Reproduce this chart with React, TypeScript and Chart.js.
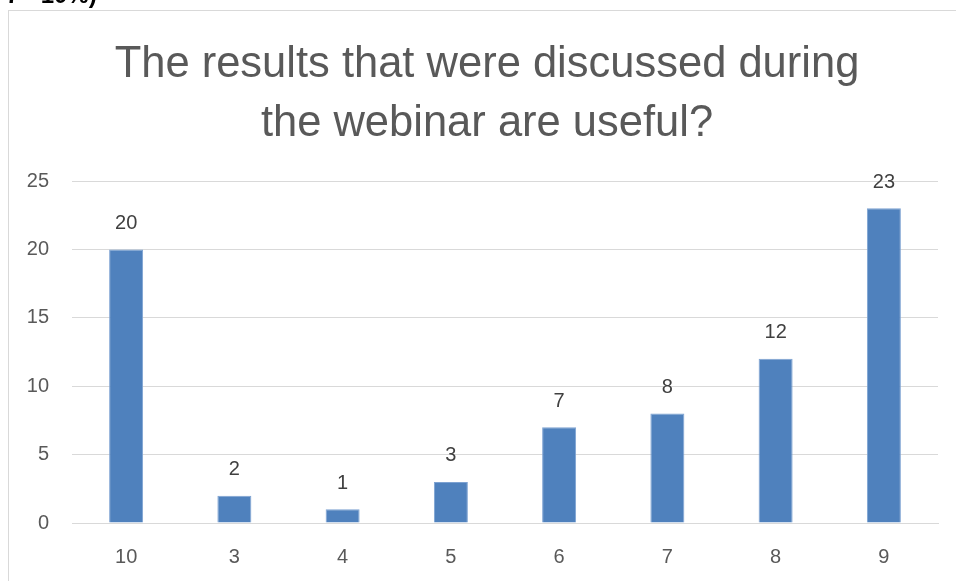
import React, { useEffect, useRef } from "react";
import { Chart, registerables } from "chart.js";

Chart.register(...registerables);

const categories = ["10", "3", "4", "5", "6", "7", "8", "9"];
const counts = [20, 2, 1, 3, 7, 8, 12, 23];
const yTicks = [0, 5, 10, 15, 20, 25];
const titleLines = ["The results that were discussed during", "the webinar are useful?"];

const FONT = "'Liberation Sans', Arial, sans-serif";
const TEXT = "#595959";

export default function App() {
  const ref = useRef<HTMLCanvasElement | null>(null);

  useEffect(() => {
    document.body.style.overflow = "hidden";
    const canvas = ref.current;
    if (!canvas) return;

    const titlePlugin = {
      id: "excelTitle",
      afterDraw(chart: any) {
        const ctx = chart.ctx;
        ctx.save();
        ctx.fillStyle = TEXT;
        ctx.font = `43.5px ${FONT}`;
        ctx.textAlign = "center";
        ctx.textBaseline = "alphabetic";
        ctx.fillText(titleLines[0], 478, 66);
        ctx.fillText(titleLines[1], 478, 125);
        ctx.restore();
      },
    };

    const labelPlugin = {
      id: "barValues",
      afterDatasetsDraw(chart: any) {
        const ctx = chart.ctx;
        const meta = chart.getDatasetMeta(0);
        ctx.save();
        ctx.fillStyle = "#404040";
        ctx.font = `20px ${FONT}`;
        ctx.textAlign = "center";
        ctx.textBaseline = "middle";
        meta.data.forEach((bar: any, i: number) => {
          ctx.fillText(String(counts[i]), bar.x, bar.y - 26);
        });
        ctx.restore();
      },
    };

    const chart = new Chart(canvas, {
      type: "bar",
      data: {
        labels: categories,
        datasets: [
          {
            data: counts,
            backgroundColor: "#4f81bd",
            borderColor: "#7da2d2",
            borderWidth: 1,
            barPercentage: 0.314,
            categoryPercentage: 1,
          },
        ],
      },
      options: {
        responsive: false,
        animation: false,
        layout: { padding: { top: 170, right: 21, left: 0, bottom: 0 } },
        plugins: {
          legend: { display: false },
          title: { display: false },
          tooltip: { enabled: false },
        },
        scales: {
          x: {
            grid: { display: false, drawTicks: false },
            border: { display: true, color: "#d9d9d9", width: 1 },
            ticks: { color: TEXT, font: { family: FONT, size: 20 }, padding: 22, maxRotation: 0 },
            afterFit(scale: any) {
              scale.height = 63;
            },
          },
          y: {
            min: 0,
            max: 25,
            afterBuildTicks(scale: any) {
              scale.ticks = yTicks.map((v) => ({ value: v }));
            },
            grid: { color: "#d9d9d9", lineWidth: 1, drawTicks: false },
            border: { display: false },
            ticks: { color: TEXT, font: { family: FONT, size: 20 }, padding: 23 },
            afterFit(scale: any) {
              scale.width = 63;
            },
          },
        },
      },
      plugins: [titlePlugin, labelPlugin],
    });

    return () => chart.destroy();
  }, []);

  return (
    <>
      <div
        style={{
          position: "fixed",
          left: 6,
          top: -19,
          fontFamily: FONT,
          fontSize: 24,
          fontWeight: "bold",
          color: "#000",
          whiteSpace: "nowrap",
        }}
      >
        7 - 10%)
      </div>
      <div
        style={{
          position: "fixed",
          left: 8,
          top: 10,
          width: 960,
          height: 600,
          borderLeft: "1px solid #d9d9d9",
          borderTop: "1px solid #d9d9d9",
          background: "#fff",
        }}
      >
        <canvas ref={ref} width={950} height={575} style={{ display: "block" }} />
      </div>
    </>
  );
}
